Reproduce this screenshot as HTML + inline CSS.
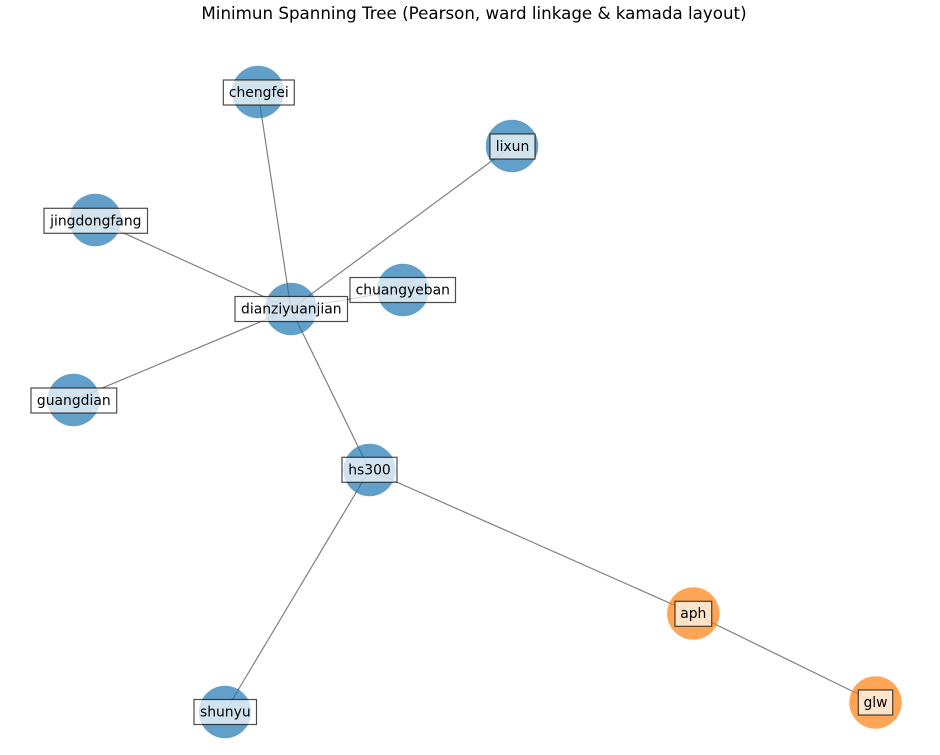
<!DOCTYPE html>
<html>
<head>
<meta charset="utf-8">
<style>
html,body{margin:0;padding:0;background:#fff;}
svg{display:block;}
text{font-family:"DejaVu Sans","Liberation Sans",sans-serif;}
</style>
</head>
<body>
<svg width="940" height="755" viewBox="0 0 940 755" xmlns="http://www.w3.org/2000/svg">
<rect width="940" height="755" fill="#fff"/>
<text x="474" y="19" font-size="16.7" text-anchor="middle" fill="#000">Minimun Spanning Tree (Pearson, ward linkage &amp; kamada layout)</text>

<g stroke="#808080" stroke-width="1.2" fill="none">
<line x1="291" y1="309" x2="258" y2="92"/>
<line x1="291" y1="309" x2="512" y2="146"/>
<line x1="291" y1="309" x2="95" y2="220"/>
<line x1="291" y1="309" x2="403" y2="290"/>
<line x1="291" y1="309" x2="73.5" y2="400"/>
<line x1="291" y1="309" x2="369.5" y2="470"/>
<line x1="369.5" y1="470" x2="693.3" y2="613.5"/>
<line x1="369.5" y1="470" x2="225" y2="712"/>
<line x1="693.3" y1="613.5" x2="875.5" y2="702.5"/>
</g>

<g fill="#1f77b4" fill-opacity="0.7">
<circle cx="258" cy="92" r="26.2"/>
<circle cx="512" cy="146" r="26.2"/>
<circle cx="95.3" cy="220" r="26.2"/>
<circle cx="403" cy="290" r="26.2"/>
<circle cx="291" cy="309" r="26.2"/>
<circle cx="73.5" cy="400" r="26.2"/>
<circle cx="369.5" cy="470" r="26.2"/>
<circle cx="225" cy="712" r="26.2"/>
</g>
<g fill="#ff7f0e" fill-opacity="0.7">
<circle cx="693.3" cy="613.5" r="26.2"/>
<circle cx="875.5" cy="702.5" r="26.2"/>
</g>

<g fill="#fff" fill-opacity="0.7" stroke="#000" stroke-opacity="0.7" stroke-width="1.2">
<rect x="223.3" y="80" width="71" height="25"/>
<rect x="490" y="134" width="45" height="25"/>
<rect x="44" y="208.3" width="103.5" height="25"/>
<rect x="350" y="277.5" width="105.5" height="25"/>
<rect x="235" y="296.5" width="112.5" height="25"/>
<rect x="31" y="388" width="85.7" height="25"/>
<rect x="342" y="457.3" width="55" height="25"/>
<rect x="675" y="601.3" width="36.7" height="25"/>
<rect x="194" y="699.5" width="62.5" height="25"/>
<rect x="858.3" y="690" width="34.4" height="25"/>
</g>

<g font-size="13.9" fill="#000" text-anchor="middle">
<text x="258.8" y="97">chengfei</text>
<text x="512.5" y="151">lixun</text>
<text x="95.8" y="225.3">jingdongfang</text>
<text x="402.8" y="294.5">chuangyeban</text>
<text x="291.3" y="313.5">dianziyuanjian</text>
<text x="73.8" y="405">guangdian</text>
<text x="369.5" y="474.5">hs300</text>
<text x="693.3" y="618">aph</text>
<text x="225.3" y="716.5">shunyu</text>
<text x="875.5" y="707">glw</text>
</g>
</svg>
</body>
</html>
